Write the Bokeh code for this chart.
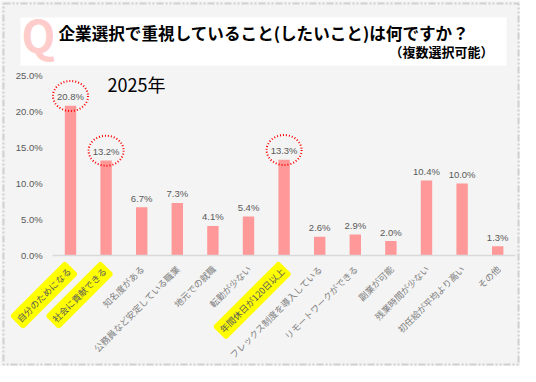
import math
from bokeh.plotting import figure
from bokeh.models import (ColumnDataSource, Range1d, LabelSet, Label, LinearAxis,
                          BoxAnnotation, PrintfTickFormatter, FixedTicker)
from bokeh.core.properties import value
from bokeh.embed import file_html
from bokeh.resources import INLINE

categories = ["自分のためになる", "社会に貢献できる", "知名度がある", "公務員など安定している職業",
              "地元での就職", "転勤が少ない", "年間休日が120日以上", "フレックス制度を導入している",
              "リモートワークができる", "副業が可能", "残業時間が少ない", "初任給が平均より高い", "その他"]
values = [20.8, 13.2, 6.7, 7.3, 4.1, 5.4, 13.3, 2.6, 2.9, 2.0, 10.4, 10.0, 1.3]
highlighted = ["自分のためになる", "社会に貢献できる", "年間休日が120日以上"]
y_ticks = [0, 5, 10, 15, 20, 25]
title_text = "企業選択で重視していること(したいこと)は何ですか？"
subtitle_text = "（複数選択可能）"
year_text = "2025年"

FONT = "Noto Sans CJK JP"
BG = "#f4f4f4"
W, H = 520, 366

idx = list(range(len(categories)))
labels = [f"{v:.1f}%" for v in values]
src = ColumnDataSource(dict(x=idx, val=values, lab=labels))
hi_idx = [categories.index(c) for c in highlighted]
hi_vals = [values[i] for i in hi_idx]
hi_src = ColumnDataSource(dict(x=hi_idx, cat=highlighted, val=hi_vals,
                               zero=[0] * len(hi_idx), ey=[v + 1.35 for v in hi_vals]))
lo_idx = [i for i, c in enumerate(categories) if c not in highlighted]
lo_src = ColumnDataSource(dict(x=lo_idx, cat=[categories[i] for i in lo_idx],
                               zero=[0] * len(lo_idx)))

# frame covers the whole canvas; axes are placed at fixed data locations
px_per_cat = 35.6
px_per_pct = 7.2
x0_px, y0_px = 70, 255
x_range = Range1d(-x0_px / px_per_cat, (W - x0_px) / px_per_cat)
y_range = Range1d(-(H - y0_px) / px_per_pct, y0_px / px_per_pct)

p = figure(width=W, height=H, output_backend="svg", toolbar_location=None,
           x_range=x_range, y_range=y_range, min_border=0,
           x_axis_location=None, y_axis_location=None)
p.background_fill_color = BG
p.border_fill_color = BG
p.outline_line_color = None
p.grid.grid_line_color = None

# border and title box
p.add_layout(BoxAnnotation(left=3, right=W - 2, top=3, bottom=H - 2, left_units="canvas",
                           right_units="canvas", top_units="canvas", bottom_units="canvas",
                           fill_color=None, line_color="#7f7f7f", line_width=2,
                           line_dash="7 2 2 2 2 2", level="underlay"))
p.add_layout(BoxAnnotation(left=20, right=506, top=17, bottom=65, left_units="canvas",
                           right_units="canvas", top_units="canvas", bottom_units="canvas",
                           fill_color="white", fill_alpha=1, line_color=None, level="underlay"))

p.vbar(x="x", top="val", width=0.32, source=src, fill_color="#ff9999", line_color=None)

# value labels
p.add_layout(LabelSet(x="x", y="val", text="lab", source=src, text_align="center",
                      text_baseline="middle", y_offset=9, text_font_size="9.5px",
                      text_color="#595959", text_font=value("Liberation Sans")))

# dotted ellipses
p.ellipse(x="x", y="ey", width=35, height=30, width_units="screen", height_units="screen",
          source=hi_src, fill_color=None, line_color="#ff0000", line_width=2, line_dash="1 2")

# axes
yaxis = LinearAxis(fixed_location=-0.5, bounds=(0, 25), ticker=FixedTicker(ticks=y_ticks),
                   formatter=PrintfTickFormatter(format="%.1f%%"))
yaxis.axis_line_color = None
yaxis.major_tick_line_color = None
yaxis.minor_tick_line_color = None
yaxis.major_label_text_color = "#595959"
yaxis.major_label_text_font_size = "9.5px"
yaxis.major_label_text_font = "Liberation Sans"
yaxis.major_label_standoff = 4
p.add_layout(yaxis, "left")

# x baseline (category labels are drawn below as rotated texts)
xaxis = LinearAxis(fixed_location=0, bounds=(-0.5, len(categories) - 0.5),
                   ticker=FixedTicker(ticks=[]))
xaxis.axis_line_color = "#d9d9d9"
xaxis.axis_line_width = 1.5
xaxis.major_tick_line_color = None
xaxis.minor_tick_line_color = None
p.add_layout(xaxis, "below")

# category labels, rotated; highlighted ones get a yellow marker background
label_style = dict(angle=math.pi / 4, text_align="right", text_baseline="middle",
                   x_offset=1, y_offset=12, text_font_size="9px", text_font=value(FONT))
p.text(x="x", y="zero", text="cat", source=lo_src, text_color="#7f7f7f", **label_style)
p.text(x="x", y="zero", text="cat", source=hi_src, text_color="#595959",
       background_fill_color="#ffff00", border_radius=3, padding=3, **label_style)

# titles
p.add_layout(Label(x=21, y=33, x_units="canvas", y_units="canvas", text="Q",
                   text_font=FONT, text_font_style="bold", text_font_size="44px",
                   text_color="#ffcccc", text_baseline="alphabetic"))
p.add_layout(Label(x=58, y=32, x_units="canvas", y_units="canvas", text=title_text,
                   text_font=FONT, text_font_style="bold", text_font_size="16.6px",
                   text_color="#000000", text_baseline="alphabetic"))
p.add_layout(Label(x=493, y=51, x_units="canvas", y_units="canvas", text=subtitle_text,
                   text_font=FONT, text_font_style="bold", text_font_size="13px",
                   text_color="#000000", text_baseline="alphabetic", text_align="right"))
p.add_layout(Label(x=107, y=83, x_units="canvas", y_units="canvas", text=year_text,
                   text_font=FONT, text_font_size="18px",
                   text_color="#000000", text_baseline="alphabetic"))

open("out.html", "w").write(file_html(p, INLINE))
